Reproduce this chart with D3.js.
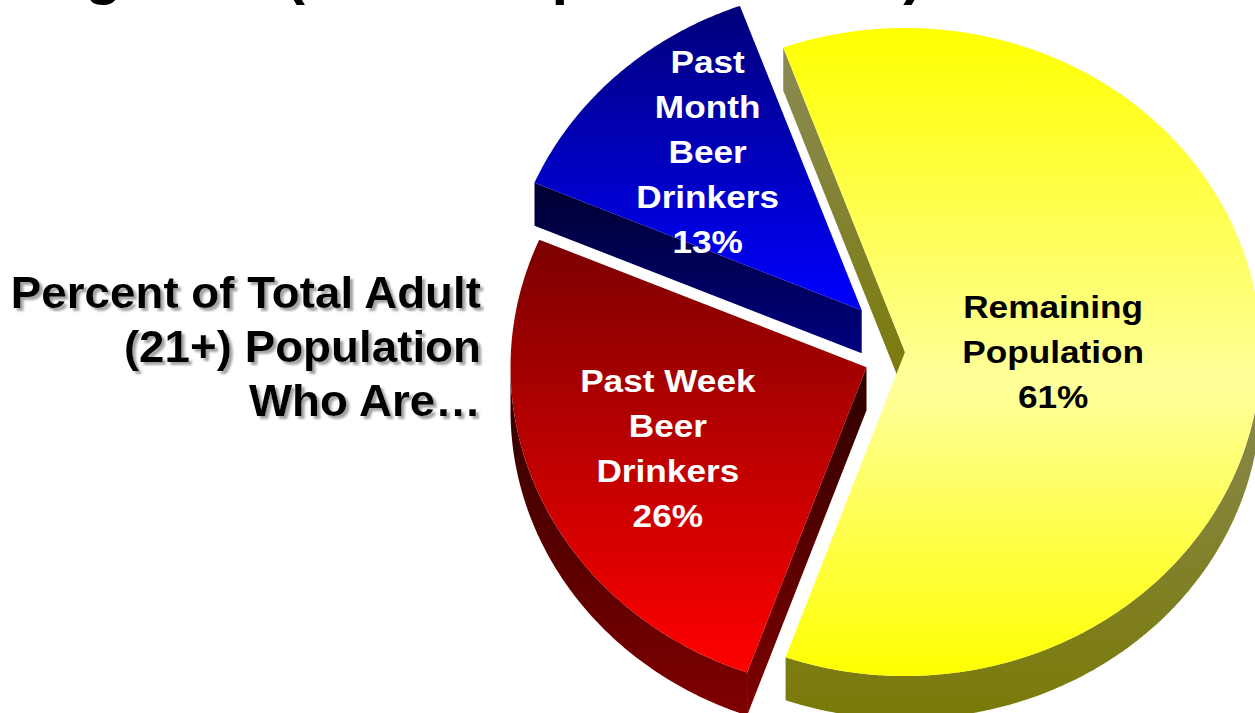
<!DOCTYPE html>
<html>
<head>
<meta charset="utf-8">
<script src="https://cdn.jsdelivr.net/npm/d3@7"></script>
<style>
  html, body { margin: 0; padding: 0; background: #fff; overflow: hidden; }
  text { font-family: "Liberation Sans", Arial, sans-serif; font-weight: bold; }
</style>
</head>
<body>
<svg id="chart" width="1255" height="713"></svg>
<script>
// ---- data ----
const categories = ["Remaining Population", "Past Week Beer Drinkers", "Past Month Beer Drinkers"];
const values = [61, 26, 13];
const labelLines = [
  ["Remaining", "Population"],
  ["Past Week", "Beer", "Drinkers"],
  ["Past", "Month", "Beer", "Drinkers"]
];
const sideCaption = ["Percent of Total Adult", "(21+) Population", "Who Are…"];
const titleText = "Beer Drinking Rate (Adult Population 21+)";

// ---- layout ----
const W = 1255, H = 713;
const cx = 905, cy = 352;          // pie centre
const rx = 356, ry = 324;          // top-face ellipse radii
const depth = 43;                  // extrusion height
const tilt = ry / rx;
const startDeg = -20;
const explode = [0, 42, 63];       // pull-out distance per slice
const labelPos = [[0.416, 0], [0.609, 0.626], [0.63, 0.675]];
const labelFont = 32, labelStretch = 1.1, lineH = 45;

// ---- styles ----
const styles = [
  { top: [[0, "#ffff00"], [0.55, "#ffff9c"], [1, "#ffff00"]], wall: ["#8a8a58", "#7a7a08"], text: "#000" },
  { top: [[0, "#7c0000"], [1, "#ff0000"]], wall: ["#2c0000", "#800000"], text: "#fff" },
  { top: [[0, "#00007a"], [1, "#0000ff"]], wall: ["#000030", "#000080"], text: "#fff" }
];

const svg = d3.select("#chart");
const defs = svg.append("defs");

styles.forEach((s, i) => {
  const gt = defs.append("linearGradient").attr("id", "top" + i)
    .attr("x1", 0).attr("y1", 0).attr("x2", 0).attr("y2", 1);
  s.top.forEach(([o, c]) => gt.append("stop").attr("offset", o).attr("stop-color", c));
  const gw = defs.append("linearGradient").attr("id", "wall" + i)
    .attr("x1", 0).attr("y1", 0).attr("x2", 0).attr("y2", 1);
  gw.append("stop").attr("offset", 0).attr("stop-color", s.wall[0]);
  gw.append("stop").attr("offset", 1).attr("stop-color", s.wall[1]);
});

const shadow = defs.append("filter").attr("id", "shadow")
  .attr("x", "-5%").attr("y", "-20%").attr("width", "115%").attr("height", "150%");
shadow.append("feDropShadow")
  .attr("dx", 3).attr("dy", 3).attr("stdDeviation", 0.9)
  .attr("flood-color", "#9a9a9a").attr("flood-opacity", 0.9);

// ---- title (runs off the top edge) ----
const title = svg.append("text")
  .attr("y", -7)
  .attr("font-size", 60)
  .attr("fill", "#000")
  .text(titleText);
const parenIdx = titleText.indexOf("(");
const preLen = title.node().getSubStringLength(0, parenIdx);
title.attr("x", 285 - preLen);

// ---- side caption with drop shadow ----
const cap = svg.append("text")
  .attr("transform", "translate(481,0) scale(1.04,1)")
  .attr("text-anchor", "end")
  .attr("font-size", 44)
  .attr("fill", "#000")
  .attr("filter", "url(#shadow)");
sideCaption.forEach((line, k) => {
  cap.append("tspan").attr("x", 0).attr("y", 308 + k * 54).text(line);
});

// ---- 3-D pie ----
const pie = d3.pie().sort(null).value(d => d)
  .startAngle(startDeg * Math.PI / 180)
  .endAngle(startDeg * Math.PI / 180 + 2 * Math.PI);
const arcs = pie(values);

const rim = (c, a) => [c[0] + rx * Math.sin(a), c[1] - ry * Math.cos(a)];
const arcPts = (c, a0, a1) => {
  const n = Math.max(2, Math.ceil(Math.abs(a1 - a0) / (Math.PI / 360)));
  return d3.range(n + 1).map(k => rim(c, a0 + (a1 - a0) * k / n));
};
const drop = p => [p[0], p[1] + depth];
const line = d3.line();
const closed = pts => line(pts) + "Z";

const slices = svg.append("g");

arcs.forEach((a, i) => {
  const m = (a.startAngle + a.endAngle) / 2;
  const c = [cx + explode[i] * Math.sin(m), cy - explode[i] * tilt * Math.cos(m)];
  const g = slices.append("g").attr("class", "slice");

  // radial side walls facing the viewer
  [[a.startAngle, a.startAngle - Math.PI / 2], [a.endAngle, a.endAngle + Math.PI / 2]].forEach(([edge, normal]) => {
    if (Math.cos(normal) < 0) {
      const p = rim(c, edge);
      g.append("path")
        .attr("d", closed([c, p, drop(p), drop(c)]))
        .attr("fill", `url(#wall${i})`);
    }
  });

  // outer curved wall (front half of the ellipse only)
  const lo = Math.max(a.startAngle, Math.PI / 2);
  const hi = Math.min(a.endAngle, 3 * Math.PI / 2);
  if (hi > lo) {
    const upper = arcPts(c, lo, hi);
    const lower = upper.map(drop).reverse();
    g.append("path")
      .attr("d", closed(upper.concat(lower)))
      .attr("fill", `url(#wall${i})`);
  }

  // top face
  g.append("path")
    .attr("d", closed([c].concat(arcPts(c, a.startAngle, a.endAngle))))
    .attr("fill", `url(#top${i})`);

  // label
  const [fx, fy] = labelPos[i];
  const lx = c[0] + fx * rx * Math.sin(m);
  const ly = c[1] - fy * ry * Math.cos(m);
  const lines = labelLines[i].concat([values[i] + "%"]);
  const first = ly - (lines.length - 1) * lineH / 2 + labelFont * 0.716 / 2;
  const t = g.append("text")
    .attr("transform", `translate(${lx},0) scale(${labelStretch},1)`)
    .attr("text-anchor", "middle")
    .attr("font-size", labelFont)
    .attr("fill", styles[i].text);
  lines.forEach((s, k) => {
    t.append("tspan").attr("x", 0).attr("y", first + k * lineH).text(s);
  });
});
</script>
</body>
</html>
